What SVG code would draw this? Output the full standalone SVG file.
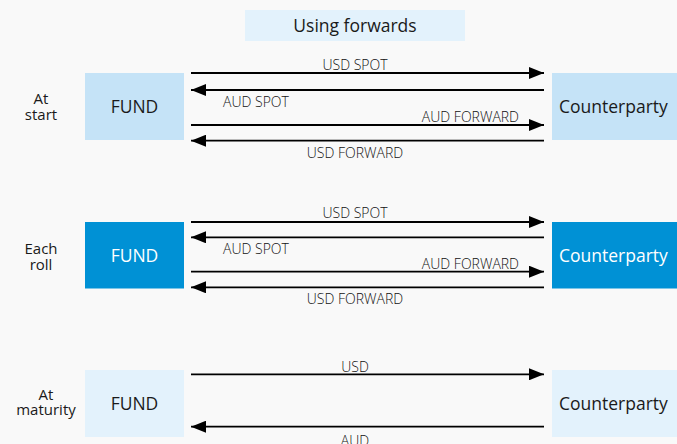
<svg xmlns="http://www.w3.org/2000/svg" width="677" height="444" viewBox="0 0 677 444">
  <defs>
    <marker id="head" viewBox="0 0 15 12" refX="15" refY="6" markerWidth="15" markerHeight="12" markerUnits="userSpaceOnUse" orient="auto">
      <path d="M0,0 L15,6 L0,12 Z" fill="#000"/>
    </marker>
    <style>
      text { font-family: "Open Sans", "Noto Sans", "DejaVu Sans", sans-serif; fill: #1a1a1a; }
      .title { font-size: 17.5px; text-anchor: middle; }
      .row { font-size: 15px; text-anchor: middle; }
      .node { font-size: 17.5px; }
      .lbl { font-size: 14px; font-weight: 350; fill: #111; }
      .on-dark { fill: #ffffff; }
      .light { fill: #c5e3f7; }
      .strong { fill: #0091d5; }
      .pale { fill: #e3f2fc; }
      .arrow { stroke: #000; stroke-width: 1.8; fill: none; marker-end: url(#head); }
    </style>
  </defs>

  <rect width="677" height="444" fill="#f9f9f9"/>

  <!-- heading -->
  <g id="title">
    <rect x="245" y="10" width="220" height="31" class="pale"/>
    <text x="355" y="32" class="title">Using forwards</text>
  </g>

  <!-- phase captions -->
  <g id="phase-start">
    <text class="row"><tspan x="41" y="104">At</tspan><tspan x="41" y="119.5">start</tspan></text>
  </g>
  <g id="phase-roll">
    <text class="row"><tspan x="41" y="254">Each</tspan><tspan x="41" y="269.5">roll</tspan></text>
  </g>
  <g id="phase-maturity">
    <text class="row"><tspan x="46" y="399.5">At</tspan><tspan x="46" y="415">maturity</tspan></text>
  </g>

  <!-- parties -->
  <g id="fund-start">
    <rect x="85" y="73" width="99" height="67" class="light"/>
    <text x="134.5" y="113" class="node" text-anchor="middle">FUND</text>
  </g>
  <g id="counterparty-start">
    <rect x="552" y="73" width="130" height="67" class="light"/>
    <text x="559" y="113" class="node">Counterparty</text>
  </g>
  <g id="fund-roll">
    <rect x="85" y="222" width="99" height="66.5" class="strong"/>
    <text x="134.5" y="262" class="node on-dark" text-anchor="middle">FUND</text>
  </g>
  <g id="counterparty-roll">
    <rect x="552" y="222" width="130" height="66.5" class="strong"/>
    <text x="559" y="262" class="node on-dark">Counterparty</text>
  </g>
  <g id="fund-maturity">
    <rect x="85" y="370" width="99" height="67" class="pale"/>
    <text x="134.5" y="410" class="node" text-anchor="middle">FUND</text>
  </g>
  <g id="counterparty-maturity">
    <rect x="552" y="370" width="130" height="67" class="pale"/>
    <text x="559" y="410" class="node">Counterparty</text>
  </g>

  <!-- flows between the parties -->
  <g id="connectors">
    <line x1="191" y1="73" x2="544" y2="73" class="arrow"/>
    <line x1="544" y1="90" x2="191" y2="90" class="arrow"/>
    <line x1="191" y1="125" x2="544" y2="125" class="arrow"/>
    <line x1="544" y1="140.7" x2="191" y2="140.7" class="arrow"/>
    <text x="355" y="70" class="lbl" text-anchor="middle">USD SPOT</text>
    <text x="223" y="106.5" class="lbl">AUD SPOT</text>
    <text x="519" y="121.5" class="lbl" text-anchor="end">AUD FORWARD</text>
    <text x="355" y="157.5" class="lbl" text-anchor="middle">USD FORWARD</text>

    <line x1="191" y1="222" x2="544" y2="222" class="arrow"/>
    <line x1="544" y1="237.3" x2="191" y2="237.3" class="arrow"/>
    <line x1="191" y1="271.7" x2="544" y2="271.7" class="arrow"/>
    <line x1="544" y1="287.3" x2="191" y2="287.3" class="arrow"/>
    <text x="355" y="217.5" class="lbl" text-anchor="middle">USD SPOT</text>
    <text x="223" y="253.5" class="lbl">AUD SPOT</text>
    <text x="519" y="268.5" class="lbl" text-anchor="end">AUD FORWARD</text>
    <text x="355" y="304" class="lbl" text-anchor="middle">USD FORWARD</text>

    <line x1="191" y1="374.3" x2="544" y2="374.3" class="arrow"/>
    <line x1="544" y1="426.7" x2="191" y2="426.7" class="arrow"/>
    <text x="355" y="371.5" class="lbl" text-anchor="middle">USD</text>
    <text x="355" y="446" class="lbl" text-anchor="middle">AUD</text>
  </g>
</svg>
